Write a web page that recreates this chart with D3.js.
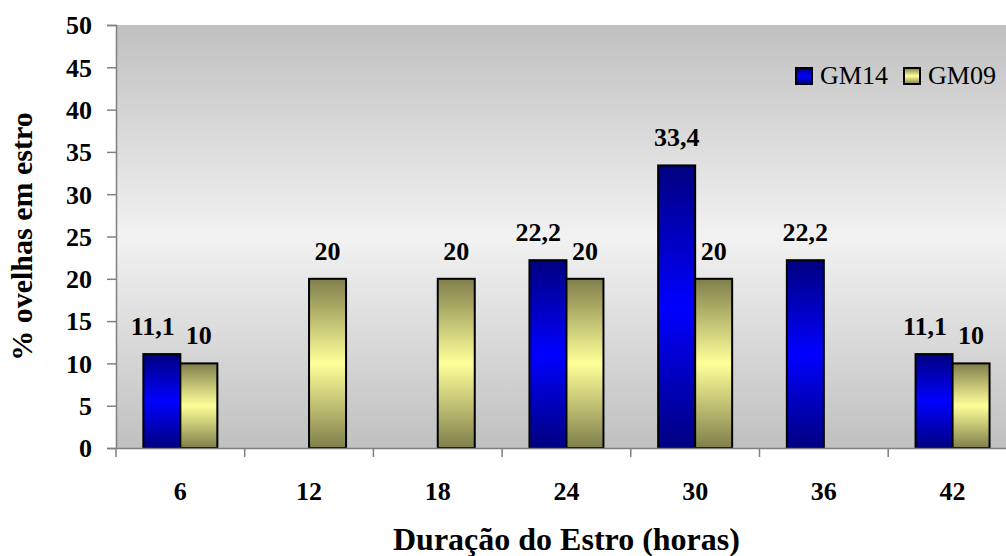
<!DOCTYPE html>
<html>
<head>
<meta charset="utf-8">
<script src="https://cdn.jsdelivr.net/npm/d3@7"></script>
<style>
  html, body { margin: 0; padding: 0; background: #fff; }
  svg { display: block; }
  text { font-family: "Liberation Serif", "Times New Roman", serif; }
</style>
</head>
<body>
<script>
// ---- data ----
const categories = ["6", "12", "18", "24", "30", "36", "42"];
const seriesNames = ["GM14", "GM09"];
const gm14 = [11.1, null, null, 22.2, 33.4, 22.2, 11.1];
const gm09 = [10, 20, 20, 20, 20, null, 10];
const yTicks = [0, 5, 10, 15, 20, 25, 30, 35, 40, 45, 50];
const xTitle = "Duração do Estro (horas)";
const yTitle = "% ovelhas em estro";

// ---- layout ----
const W = 1006, H = 556;
const plotL = 116, plotT = 25, plotB = 448;
const catW = 128.7;
const plotR = plotL + categories.length * catW;

const svg = d3.select("body").append("svg").attr("width", W).attr("height", H);
const defs = svg.append("defs");

const bg = defs.append("linearGradient").attr("id", "bg").attr("x1", 0).attr("y1", 0).attr("x2", 0).attr("y2", 1);
bg.append("stop").attr("offset", 0).attr("stop-color", "#c0c0c0");
bg.append("stop").attr("offset", 0.5).attr("stop-color", "#f2f2f2");
bg.append("stop").attr("offset", 1).attr("stop-color", "#c0c0c0");

function barGrad(id, edge, mid) {
  const g = defs.append("linearGradient").attr("id", id).attr("x1", 0).attr("y1", 0).attr("x2", 0).attr("y2", 1);
  g.append("stop").attr("offset", 0).attr("stop-color", edge);
  g.append("stop").attr("offset", 0.5).attr("stop-color", mid);
  g.append("stop").attr("offset", 1).attr("stop-color", edge);
}
barGrad("gBlue", "#000080", "#0000ff");
barGrad("gYellow", "#7f7f4c", "#ffff99");
const fills = { GM14: "url(#gBlue)", GM09: "url(#gYellow)" };

const x = d3.scaleBand().domain(categories).range([plotL, plotR]).paddingInner(0).paddingOuter(0);
const groupW = x.bandwidth() * 0.575;
const x1 = d3.scaleBand().domain(seriesNames)
  .range([(x.bandwidth() - groupW) / 2, (x.bandwidth() + groupW) / 2]);
const y = d3.scaleLinear().domain([0, 50]).range([plotB, plotT]);

// plot background
svg.append("rect").attr("x", plotL).attr("y", plotT)
  .attr("width", plotR - plotL).attr("height", plotB - plotT)
  .attr("fill", "url(#bg)");

// bars
const rows = [];
categories.forEach((c, i) => {
  rows.push({ cat: c, s: "GM14", v: gm14[i] });
  rows.push({ cat: c, s: "GM09", v: gm09[i] });
});
const data = rows.filter(d => d.v != null);

svg.append("g").selectAll("rect").data(data).join("rect")
  .attr("x", d => x(d.cat) + x1(d.s))
  .attr("y", d => y(d.v))
  .attr("width", x1.bandwidth())
  .attr("height", d => y(0) - y(d.v))
  .attr("fill", d => fills[d.s])
  .attr("stroke", "#000")
  .attr("stroke-width", 2);

// axes
const yAxis = svg.append("g").attr("transform", `translate(${plotL},0)`)
  .call(d3.axisLeft(y).tickValues(yTicks).tickSize(9).tickPadding(15));
const xAxis = svg.append("g").attr("transform", `translate(0,${plotB})`)
  .call(d3.axisBottom(x).tickSize(0).tickPadding(34));
[yAxis, xAxis].forEach(a => {
  a.select(".domain").attr("stroke", "#808080").attr("stroke-width", 1.5);
  a.selectAll(".tick line").attr("stroke", "#808080").attr("stroke-width", 1.5);
  a.selectAll("text").attr("font-size", 26).attr("font-weight", "bold")
    .attr("fill", "#000").attr("font-family", "Liberation Serif, Times New Roman, serif");
});
yAxis.selectAll(".tick text").attr("dy", "0.34em");
// x category boundary ticks
const bounds = categories.map(c => x(c)).concat([plotR]);
xAxis.selectAll(".bound").data(bounds).join("line").attr("class", "bound")
  .attr("x1", d => d).attr("x2", d => d).attr("y1", 0).attr("y2", 9)
  .attr("stroke", "#808080").attr("stroke-width", 1.5);

// data labels
const fmt = v => String(v).replace(".", ",");
const lab = svg.append("g").selectAll("text").data(data).join("text")
  .attr("x", d => x(d.cat) + x1(d.s) + x1.bandwidth() / 2)
  .attr("y", d => y(d.v) - 19)
  .attr("text-anchor", "middle")
  .attr("font-size", 26).attr("font-weight", "bold")
  .text(d => fmt(d.v));
// resolve overlap: push the left label leftwards
const nodes = lab.nodes();
categories.forEach(c => {
  const a = nodes.find(n => d3.select(n).datum().cat === c && d3.select(n).datum().s === "GM14");
  const b = nodes.find(n => d3.select(n).datum().cat === c && d3.select(n).datum().s === "GM09");
  if (!a || !b) return;
  const da = d3.select(a).datum(), db = d3.select(b).datum();
  if (Math.abs(y(da.v) - y(db.v)) >= 20) return;
  const wa = a.getComputedTextLength(), wb = b.getComputedTextLength();
  const ax = +a.getAttribute("x"), bx = +b.getAttribute("x");
  const overlap = (ax + wa / 2) + 11 - (bx - wb / 2);
  if (overlap > 0) a.setAttribute("x", ax - overlap);
});

// legend
const legend = svg.append("g").attr("transform", "translate(796,68)");
const legX = [0, 108];
seriesNames.forEach((s, i) => {
  const g = legend.append("g").attr("transform", `translate(${legX[i]},0)`);
  g.append("rect").attr("width", 16).attr("height", 16)
    .attr("fill", fills[s]).attr("stroke", "#000").attr("stroke-width", 2);
  g.append("text").attr("x", 24).attr("y", 16).attr("font-size", 26).text(s);
});

// titles
svg.append("text").attr("x", (plotL + plotR) / 2).attr("y", 550)
  .attr("text-anchor", "middle").attr("font-size", 32).attr("font-weight", "bold")
  .text(xTitle);
svg.append("text").attr("transform", `translate(32,${(plotT + plotB) / 2}) rotate(-90)`)
  .attr("text-anchor", "middle").attr("font-size", 30).attr("font-weight", "bold")
  .text(yTitle);
</script>
</body>
</html>
